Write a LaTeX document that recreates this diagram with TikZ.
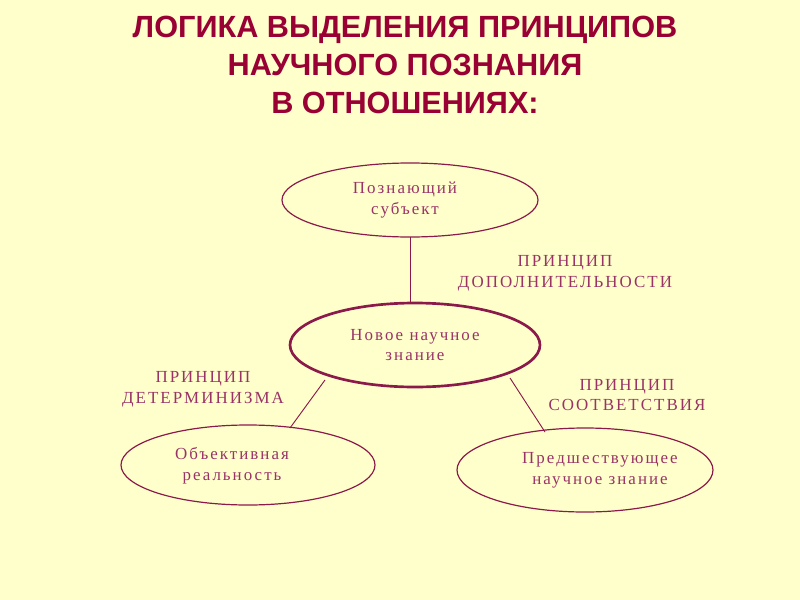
\documentclass[tikz,border=0pt]{standalone}
\usepackage{fontspec}
\setmainfont{Liberation Serif}
\newfontfamily\titlefont{Liberation Sans}
\newfontfamily\lsp[LetterSpace=12]{Liberation Serif}
\definecolor{bg}{HTML}{FFFFCC}
\definecolor{ttl}{HTML}{990033}
\definecolor{ink}{HTML}{8B1A4A}
\definecolor{txt}{HTML}{993366}
\begin{document}
\begin{tikzpicture}[x=0.75pt,y=-0.75pt,
  ell/.style={draw=ink,line width=0.9pt,fill=bg},
  lbl/.style={text=txt,font=\lsp\fontsize{12.7}{15.5}\selectfont,align=center},
  con/.style={draw=ink,line width=0.7pt}]
\fill[bg] (0,0) rectangle (800,600);
\useasboundingbox (0,0) rectangle (800,600);
\node[text=ttl,font=\titlefont\bfseries\fontsize{23}{28.5}\selectfont,align=center] (title) at (405,65)
  {ЛОГИКА ВЫДЕЛЕНИЯ ПРИНЦИПОВ\\НАУЧНОГО ПОЗНАНИЯ\\В ОТНОШЕНИЯХ:};
\draw[ell] (410,200) ellipse [x radius=128,y radius=37];
\draw[ell,line width=2pt] (415,345) ellipse [x radius=125,y radius=42];
\draw[ell] (248,465) ellipse [x radius=127,y radius=40];
\draw[ell] (585,470) ellipse [x radius=128,y radius=42];
\coordinate (t) at (410,237); \coordinate (mt) at (410,303);
\coordinate (ml) at (325,380); \coordinate (l) at (290,428);
\coordinate (mr) at (510,378); \coordinate (r) at (545,432);
\draw[con] (t) -- (mt);
\draw[con] (ml) -- (l);
\draw[con] (mr) -- (r);
\node[lbl] (a) at (405,200) {Познающий\\субъект};
\node[lbl] (b) at (415,345) {Новое научное\\знание};
\node[lbl] (c) at (232,466) {Объективная\\реальность};
\node[lbl] (d) at (600,470) {Предшествующее\\научное знание};
\node[lbl] (p1) at (565,273) {ПРИНЦИП\\ДОПОЛНИТЕЛЬНОСТИ};
\node[lbl] (p2) at (203,389) {ПРИНЦИП\\ДЕТЕРМИНИЗМА};
\node[lbl] (p3) at (627,395) {ПРИНЦИП\\СООТВЕТСТВИЯ};
\end{tikzpicture}
\end{document}
